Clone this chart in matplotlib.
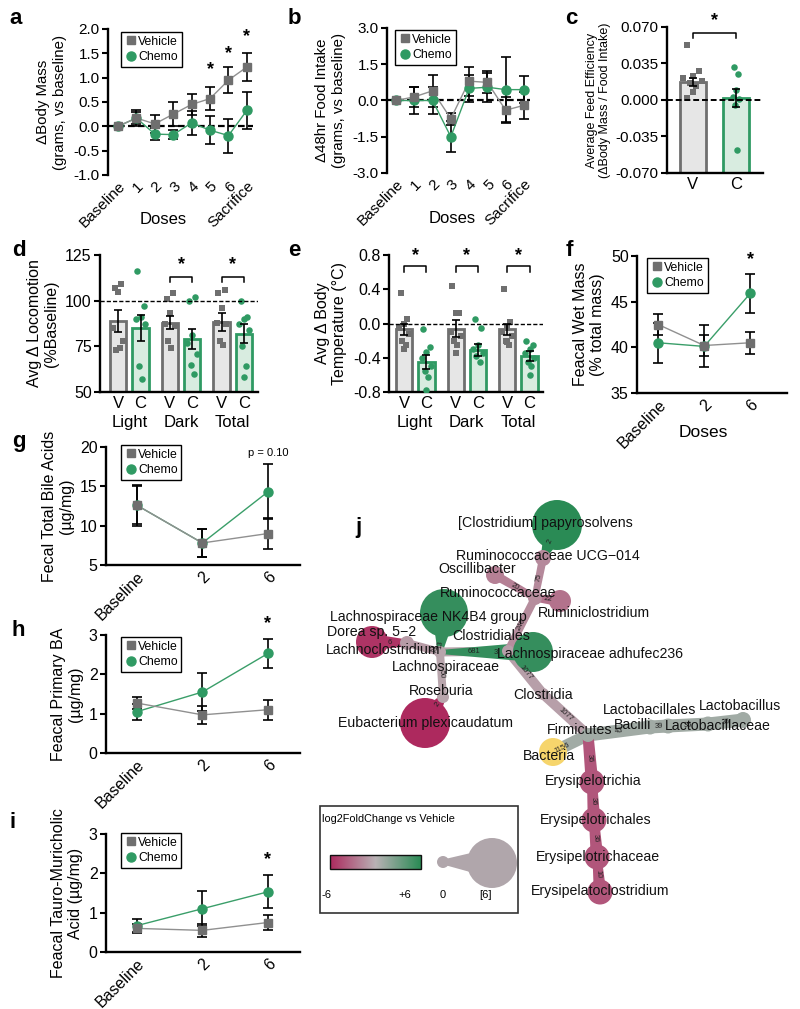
import matplotlib.pyplot as plt
import numpy as np
from matplotlib.patches import Circle, Polygon, Rectangle
from matplotlib.colors import LinearSegmentedColormap
from matplotlib.ticker import FormatStrFormatter
from matplotlib.lines import Line2D

plt.rcParams['font.family'] = ['Liberation Sans', 'DejaVu Sans']
plt.rcParams['axes.unicode_minus'] = False

GRAY = '#6f6f6f'
GRAY_LINE = '#909090'
GREEN = '#2f9a63'
GREEN_LINE = '#3a9e69'
V_FILL = '#e6e6e6'
C_FILL = '#d8ece0'

# ---------------- data ----------------
dose_labels = ['Baseline', '1', '2', '3', '4', '5', '6', 'Sacrifice']
mass_veh = [0, 0.17, 0.05, 0.25, 0.45, 0.57, 0.95, 1.22]
mass_veh_err = [0, 0.16, 0.18, 0.24, 0.22, 0.23, 0.26, 0.28]
mass_chemo = [0, 0.17, -0.16, -0.17, 0.07, -0.08, -0.19, 0.33]
mass_chemo_err = [0, 0.12, 0.12, 0.10, 0.25, 0.29, 0.35, 0.38]

food_veh = [0, 0.15, 0.4, -0.75, 0.8, 0.75, -0.4, -0.2]
food_veh_err = [0, 0.4, 0.65, 0.25, 0.6, 0.45, 0.55, 0.55]
food_chemo = [0, 0.0, 0.0, -1.5, 0.5, 0.55, 0.45, 0.45]
food_chemo_err = [0, 0.55, 0.55, 0.65, 0.55, 0.6, 1.35, 0.55]

fe_means = [0.017, 0.002]
fe_sems = [0.004, 0.009]
fe_veh_pts = [0.053, 0.028, 0.023, 0.021, 0.018, 0.016, 0.013, 0.008, 0.002]
fe_chemo_pts = [0.032, 0.025, 0.010, 0.003, 0.001, -0.005, -0.048]

phase_labels = ['Light', 'Dark', 'Total']
loc_veh_mean = [89, 88, 88.5]
loc_veh_sem = [6, 3.5, 5]
loc_chemo_mean = [85, 79, 82]
loc_chemo_sem = [7, 5.5, 5]
loc_veh_pts = [[107, 109, 105, 85, 78, 73, 74],
               [101, 104, 93, 87, 86, 78, 74],
               [104, 106, 96, 88, 87, 78, 76]]
loc_chemo_pts = [[116, 97, 91, 90, 87, 64, 57],
                 [100, 102, 81, 77, 71, 65, 60],
                 [100, 91, 90, 87, 84, 75, 64, 58]]

temp_veh_mean = [-0.07, -0.06, -0.07]
temp_veh_sem = [0.06, 0.10, 0.07]
temp_chemo_mean = [-0.45, -0.31, -0.38]
temp_chemo_sem = [0.08, 0.07, 0.06]
temp_veh_pts = [[0.36, 0.05, 0.0, -0.05, -0.12, -0.2, -0.25, -0.3],
                [0.44, 0.12, 0.12, -0.1, -0.15, -0.2, -0.25, -0.35],
                [0.4, 0.02, -0.05, -0.1, -0.15, -0.2, -0.25, -0.22]]
temp_chemo_pts = [[-0.07, -0.27, -0.33, -0.4, -0.5, -0.55, -0.63, -0.78],
                  [0.05, -0.05, -0.25, -0.3, -0.35, -0.38, -0.45],
                  [-0.2, -0.25, -0.3, -0.35, -0.4, -0.45, -0.5, -0.6]]

fecal_labels = ['Baseline', '2', '6']
wet_veh = [42.5, 40.2, 40.5]
wet_veh_err = [1.1, 1.2, 1.2]
wet_chemo = [40.5, 40.1, 45.9]
wet_chemo_err = [2.2, 2.3, 2.1]

bile_veh = [12.6, 7.8, 9.0]
bile_veh_err = [2.4, 1.8, 2.0]
bile_chemo = [12.6, 7.8, 14.3]
bile_chemo_err = [2.6, 1.8, 3.5]

pba_veh = [1.27, 0.97, 1.1]
pba_veh_err = [0.16, 0.22, 0.26]
pba_chemo = [1.05, 1.55, 2.53]
pba_chemo_err = [0.2, 0.48, 0.38]

tmca_veh = [0.6, 0.55, 0.75]
tmca_veh_err = [0.1, 0.16, 0.2]
tmca_chemo = [0.67, 1.1, 1.53]
tmca_chemo_err = [0.18, 0.45, 0.42]

# heat tree (panel j)
taxa = ['Bacteria', 'Firmicutes', 'Clostridia', 'Clostridiales', 'Lachnospiraceae',
        'Lachnospiraceae NK4B4 group', 'Lachnoclostridium', 'Dorea sp. 5−2', 'Roseburia',
        'Eubacterium plexicaudatum', 'Lachnospiraceae adhufec236', 'Ruminococcaceae',
        'Ruminiclostridium', 'Oscillibacter', 'Ruminococcaceae UCG−014',
        '[Clostridium] papyrosolvens', 'Bacilli', 'Lactobacillales', 'Lactobacillaceae',
        'Lactobacillus', 'Erysipelotrichia', 'Erysipelotrichales', 'Erysipelotrichaceae',
        'Erysipelatoclostridium']
parent = [-1, 0, 1, 2, 3, 4, 4, 6, 4, 8, 4, 3, 11, 11, 11, 14, 1, 16, 17, 18, 1, 20, 21, 22]
log2fc = [np.nan, 1.0, -0.8, -0.8, -0.6, 5.5, -1.0, -5.5, -0.6, -6.0, 5.5, -1.6,
          -2.8, -2.2, -1.8, 6.0, 1.0, 1.0, 1.0, 1.0, -4.0, -4.0, -4.0, -4.0]
edge_n = [0, 1156, 1077, 1077, 681, 13, 22, 6, 50, 2, 3, 246, 22, 20, 75, 2,
          43, 39, 36, 36, 36, 36, 36, 10]

# layout of the tree (pixel space of the figure)
node_x = [553, 588, 543, 508, 440, 444, 407, 372, 443, 425, 533, 535, 560, 495, 543, 557,
          650, 668, 708, 743, 592, 594, 597, 600]
node_y = [752, 735, 694, 651, 652, 613, 643, 642, 697, 723, 652, 598, 601, 575, 558, 525,
          727, 726, 724, 720, 782, 820, 857, 892]
node_r = [14, 7, 6, 6, 6, 24, 7, 16, 6, 25, 20, 7, 11, 9, 8, 25,
          7.5, 7.5, 7.5, 8, 12.5, 12.5, 12.5, 12.5]
edge_w = [0, 12, 10, 10, 9, 5, 8, 7, 8, 6, 4, 8, 7, 7, 7, 5, 13, 13, 13, 13, 11, 10, 10, 9]
edge_t = [0.5, 0.25, 0.5, 0.5, 0.5, 0.2, 0.2, 0.5, 0.5, 0.3, 0.6, 0.5, 0.5, 0.5, 0.5, 0.5,
          0.5, 0.5, 0.5, 0.5, 0.5, 0.5, 0.5, 0.5]
label_x = [549, 580, 543, 491, 446, 428, 383, 372, 441, 425, 590, 498, 594, 477, 548, 545,
           633, 650, 718, 740, 593, 596, 598, 600]
label_y = [756, 730, 695, 636, 667, 617, 650, 632, 691, 723, 654, 593, 613, 569, 556, 523,
           725, 710, 726, 706, 781, 820, 857, 891]

# ---------------- helpers ----------------
W, H = 800, 1009
fig = plt.figure(figsize=(W / 100, H / 100), dpi=100)


def px_axes(x0, y0, x1, y1):
    return fig.add_axes([x0 / W, 1 - y1 / H, (x1 - x0) / W, (y1 - y0) / H])


def style_axes(ax, tick_fs=11):
    for s in ['top', 'right']:
        ax.spines[s].set_visible(False)
    for s in ['left', 'bottom']:
        ax.spines[s].set_linewidth(1.7)
    ax.tick_params(axis='y', direction='out', length=4, width=1.5, labelsize=tick_fs, pad=2)
    ax.tick_params(axis='x', length=0, labelsize=tick_fs, pad=3)


def add_legend(ax, anchor, fs=8.8):
    handles = [Line2D([], [], marker='s', color=GRAY, ls='none', ms=6),
               Line2D([], [], marker='o', color=GREEN, ls='none', ms=6.5)]
    leg = ax.legend(handles, ['Vehicle', 'Chemo'], loc='upper left', bbox_to_anchor=anchor,
                    frameon=True, fancybox=False, edgecolor='black', framealpha=1,
                    handletextpad=0.1, handlelength=1.0, borderpad=0.3, labelspacing=0.3,
                    fontsize=fs, borderaxespad=0)
    leg.get_frame().set_linewidth(1.0)


def line_panel(ax, labels, veh, veh_err, chemo, chemo_err):
    x = np.arange(len(labels))
    ax.errorbar(x, veh, yerr=veh_err, fmt='none', ecolor='black', elinewidth=1.2,
                capsize=3.5, capthick=1.2, zorder=2)
    ax.errorbar(x, chemo, yerr=chemo_err, fmt='none', ecolor='black', elinewidth=1.2,
                capsize=3.5, capthick=1.2, zorder=2)
    ax.plot(x, chemo, color=GREEN_LINE, lw=1, zorder=3)
    ax.plot(x, veh, color=GRAY_LINE, lw=1, zorder=3)
    ax.plot(x, chemo, 'o', color=GREEN, ms=6.5, zorder=4, clip_on=False)
    ax.plot(x, veh, 's', color=GRAY, ms=6, zorder=5, clip_on=False)
    ax.set_xticks(x)
    ax.set_xticklabels(labels, rotation=45, ha='right', rotation_mode='anchor')


def star(ax, x, y, fs=13):
    ax.text(x, y, '*', ha='center', va='center', fontsize=fs, fontweight='bold',
            clip_on=False)


def bracket(ax, x0, x1, y, drop, star_y):
    ax.plot([x0, x0, x1, x1], [y - drop, y, y, y - drop], color='black', lw=1.1,
            clip_on=False)
    star(ax, (x0 + x1) / 2, star_y)


def jitter(n):
    return np.resize([-0.14, 0.14, 0.0, -0.22, 0.22, -0.07, 0.07, 0.0], n)


def group_bar_panel(ax, vm, vs, cm, cs, vp, cp, ybot):
    gpos = np.arange(len(phase_labels)) * 2.3
    for i in range(len(phase_labels)):
        xv, xc = gpos[i], gpos[i] + 1
        ax.bar(xv, vm[i] - ybot, bottom=ybot, width=0.72, color=V_FILL, edgecolor=GRAY,
               lw=2, zorder=2)
        ax.bar(xc, cm[i] - ybot, bottom=ybot, width=0.72, color=C_FILL, edgecolor=GREEN,
               lw=2, zorder=2)
        ax.scatter(xv + jitter(len(vp[i])), vp[i], marker='s', s=20, color=GRAY, zorder=3,
                   lw=0)
        ax.scatter(xc + jitter(len(cp[i])), cp[i], marker='o', s=22, color=GREEN, zorder=3,
                   lw=0)
        ax.errorbar([xv, xc], [vm[i], cm[i]], yerr=[vs[i], cs[i]], fmt='none',
                    ecolor='black', elinewidth=1.2, capsize=3, capthick=1.2, zorder=4)
    ticks = np.concatenate([[g, g + 1] for g in gpos])
    ax.set_xticks(ticks)
    ax.set_xticklabels(['V', 'C'] * len(phase_labels))
    for i, g in enumerate(gpos):
        ax.text(g + 0.5, -0.22, phase_labels[i], transform=ax.get_xaxis_transform(),
                ha='center', va='center', fontsize=12)
    return gpos


def letter(x, y, s):
    fig.text(x / W, 1 - y / H, s, fontsize=16, fontweight='bold', ha='center', va='center')


# ---------------- a ----------------
ax = px_axes(108, 29, 253, 175)
line_panel(ax, dose_labels, mass_veh, mass_veh_err, mass_chemo, mass_chemo_err)
style_axes(ax)
ax.spines['bottom'].set_visible(False)
ax.axhline(0, color='black', ls=(0, (3, 1.5)), lw=1.6, zorder=1)
ax.set_xlim(-0.54, 7.33)
ax.set_ylim(-1.0, 2.0)
ax.set_yticks(np.arange(-1.0, 2.01, 0.5))
ax.yaxis.set_major_formatter(FormatStrFormatter('%.1f'))
ax.set_ylabel('ΔBody Mass\n(grams, vs baseline)', fontsize=10.8, labelpad=5)
ax.set_xlabel('Doses', fontsize=12)
ax.xaxis.set_label_coords(0.38, -0.25)
add_legend(ax, (0.09, 0.98))
for xi, yi in zip([5, 6, 7], [1.16, 1.5, 1.85]):
    star(ax, xi, yi)
letter(16, 18, 'a')

# ---------------- b ----------------
ax = px_axes(387, 28, 530, 173)
line_panel(ax, dose_labels, food_veh, food_veh_err, food_chemo, food_chemo_err)
style_axes(ax)
ax.spines['bottom'].set_visible(False)
ax.axhline(0, color='black', ls=(0, (3, 1.5)), lw=1.6, zorder=1)
ax.set_xlim(-0.49, 7.33)
ax.set_ylim(-3.0, 3.0)
ax.set_yticks(np.arange(-3.0, 3.01, 1.5))
ax.yaxis.set_major_formatter(FormatStrFormatter('%.1f'))
ax.set_ylabel('Δ48hr Food Intake\n(grams, vs baseline)', fontsize=10.8, labelpad=5)
ax.set_xlabel('Doses', fontsize=12)
ax.xaxis.set_label_coords(0.455, -0.262)
add_legend(ax, (0.056, 0.986))
letter(294, 19, 'b')

# ---------------- c ----------------
ax = px_axes(667, 27, 763, 173)
ybot = -0.07
ax.bar(0, fe_means[0] - ybot, bottom=ybot, width=0.6, color=V_FILL, edgecolor=GRAY, lw=2,
       zorder=2)
ax.bar(1, fe_means[1] - ybot, bottom=ybot, width=0.6, color=C_FILL, edgecolor=GREEN, lw=2,
       zorder=2)
ax.scatter(0 + jitter(len(fe_veh_pts)), fe_veh_pts, marker='s', s=20, color=GRAY, lw=0,
           zorder=3)
ax.scatter(1 + jitter(len(fe_chemo_pts)) * 0.3, fe_chemo_pts, marker='o', s=22, color=GREEN,
           lw=0, zorder=3)
ax.errorbar([0, 1], fe_means, yerr=fe_sems, fmt='none', ecolor='black', elinewidth=1.2,
            capsize=3, capthick=1.2, zorder=4)
ax.axhline(0, color='black', ls=(0, (3, 1.5)), lw=1.4, zorder=5)
style_axes(ax)
ax.set_xlim(-0.6, 1.63)
ax.set_ylim(-0.07, 0.07)
ax.set_yticks([-0.07, -0.035, 0, 0.035, 0.07])
ax.yaxis.set_major_formatter(FormatStrFormatter('%.3f'))
ax.set_xticks([0, 1])
ax.set_xticklabels(['V', 'C'], fontsize=12)
ax.set_ylabel('Average Feed Efficiency\n(ΔBody Mass / Food Intake)', fontsize=9, labelpad=3)
bracket(ax, 0, 1, 0.0642, 0.0047, 0.0758)
letter(571, 18, 'c')

# ---------------- d ----------------
ax = px_axes(100, 255, 258, 392)
gpos = group_bar_panel(ax, loc_veh_mean, loc_veh_sem, loc_chemo_mean, loc_chemo_sem,
                       loc_veh_pts, loc_chemo_pts, 50)
ax.axhline(100, color='black', ls=(0, (3, 1.5)), lw=1.0, zorder=5)
style_axes(ax, 11.5)
ax.tick_params(axis='x', labelsize=12)
ax.set_xlim(-0.8, 6.22)
ax.set_ylim(50, 125)
ax.set_yticks([50, 75, 100, 125])
ax.set_ylabel('Avg Δ Locomotion\n(%Baseline)', fontsize=11.5, labelpad=4)
for g in gpos[1:]:
    bracket(ax, g, g + 1, 113, 3, 119.5)
letter(19, 250, 'd')

# ---------------- e ----------------
ax = px_axes(389, 255, 543, 392)
gpos = group_bar_panel(ax, temp_veh_mean, temp_veh_sem, temp_chemo_mean, temp_chemo_sem,
                       temp_veh_pts, temp_chemo_pts, -0.8)
ax.axhline(0, color='black', ls=(0, (3, 1.5)), lw=1.0, zorder=5)
style_axes(ax, 11.5)
ax.tick_params(axis='x', labelsize=12)
ax.set_xlim(-0.67, 6.2)
ax.set_ylim(-0.8, 0.8)
ax.set_yticks([-0.8, -0.4, 0, 0.4, 0.8])
ax.yaxis.set_major_formatter(FormatStrFormatter('%.1f'))
ax.set_ylabel('Avg Δ Body\nTemperature (°C)', fontsize=11.5, labelpad=4)
for g in gpos:
    bracket(ax, g, g + 1, 0.67, 0.07, 0.79)
letter(294, 250, 'e')

# ---------------- f ----------------
ax = px_axes(637, 256, 787, 393)
line_panel(ax, fecal_labels, wet_veh, wet_veh_err, wet_chemo, wet_chemo_err)
style_axes(ax, 11.5)
ax.set_xlim(-0.46, 2.8)
ax.set_ylim(35, 50)
ax.set_yticks([35, 40, 45, 50])
ax.set_ylabel('Feacal Wet Mass\n(% total mass)', fontsize=11.5, labelpad=4)
ax.set_xlabel('Doses', fontsize=12.5)
ax.xaxis.set_label_coords(0.44, -0.234)
add_legend(ax, (0.067, 0.985))
star(ax, 2, 49.6)
letter(569, 250, 'f')

# ---------------- g ----------------
ax = px_axes(106, 447, 300, 565)
line_panel(ax, fecal_labels, bile_veh, bile_veh_err, bile_chemo, bile_chemo_err)
style_axes(ax, 11.5)
ax.set_xlim(-0.47, 2.49)
ax.set_ylim(5, 20)
ax.set_yticks([5, 10, 15, 20])
ax.set_ylabel('Fecal Total Bile Acids\n(µg/mg)', fontsize=11.5, labelpad=4)
add_legend(ax, (0.077, 1.017))
ax.text(2, 19.2, 'p = 0.10', ha='center', va='center', fontsize=8)
letter(19, 442, 'g')

# ---------------- h ----------------
ax = px_axes(106, 635, 300, 753)
line_panel(ax, fecal_labels, pba_veh, pba_veh_err, pba_chemo, pba_chemo_err)
style_axes(ax, 11.5)
ax.set_xlim(-0.47, 2.49)
ax.set_ylim(0, 3)
ax.set_yticks([0, 1, 2, 3])
ax.set_ylabel('Feacal Primary BA\n(µg/mg)', fontsize=11.5, labelpad=4)
add_legend(ax, (0.077, 0.983))
star(ax, 2, 3.3)
letter(18, 630, 'h')

# ---------------- i ----------------
ax = px_axes(106, 834, 300, 952)
line_panel(ax, fecal_labels, tmca_veh, tmca_veh_err, tmca_chemo, tmca_chemo_err)
style_axes(ax, 11.5)
ax.set_xlim(-0.47, 2.49)
ax.set_ylim(0, 3)
ax.set_yticks([0, 1, 2, 3])
ax.set_ylabel('Feacal Tauro-Muricholic\nAcid (µg/mg)', fontsize=11.5, labelpad=4)
add_legend(ax, (0.077, 1.008))
star(ax, 2, 2.36)
letter(13, 822, 'i')

# ---------------- j : heat tree ----------------
cmap = LinearSegmentedColormap.from_list('fc', ['#ad295e', '#b9b2b5', '#2a8b55'])
NA_COLOR = '#f6d56c'


def fc_color(v):
    if np.isnan(v):
        return NA_COLOR
    return cmap((v + 6) / 12)


def taper(x0, y0, x1, y1, hw0, hw1):
    d = np.array([x1 - x0, y1 - y0], float)
    n = np.array([-d[1], d[0]]) / np.hypot(*d)
    p0, p1 = np.array([x0, y0], float), np.array([x1, y1], float)
    return np.array([p0 + n * hw0, p1 + n * hw1, p1 - n * hw1, p0 - n * hw0])


axj = px_axes(310, 490, 800, 1009)
axj.set_axis_off()

for k, p in enumerate(parent):
    if p < 0:
        continue
    col = fc_color(log2fc[k])
    hw0 = edge_w[k] / 2
    hw1 = max(hw0, 0.5 * node_r[k])
    axj.add_patch(Polygon(taper(node_x[p], node_y[p], node_x[k], node_y[k], hw0, hw1),
                          closed=True, fc=col, ec='none', zorder=1))
    axj.add_patch(Circle((node_x[p], node_y[p]), hw0, fc=col, ec='none', zorder=1))

for k in range(len(taxa)):
    axj.add_patch(Circle((node_x[k], node_y[k]), node_r[k], fc=fc_color(log2fc[k]),
                         ec='none', zorder=2))

for k, p in enumerate(parent):
    if p < 0:
        continue
    t = edge_t[k]
    mx = node_x[p] + t * (node_x[k] - node_x[p])
    my = node_y[p] + t * (node_y[k] - node_y[p])
    ang = np.degrees(np.arctan2(-(node_y[k] - node_y[p]), node_x[k] - node_x[p]))
    if ang > 90:
        ang -= 180
    elif ang < -90:
        ang += 180
    axj.text(mx, my, str(edge_n[k]), rotation=ang, ha='center', va='center', fontsize=5.5,
             color='#222222', zorder=3, rotation_mode='anchor')

for k in range(len(taxa)):
    axj.text(label_x[k], label_y[k], taxa[k], ha='center', va='center', fontsize=10.2,
             color='#111111', zorder=4)

# legend of heat tree
axj.add_patch(Rectangle((320, 806), 198, 107, fill=False, ec='#333333', lw=1.2, zorder=5))
axj.text(322, 819, 'log2FoldChange vs Vehicle', ha='left', va='center', fontsize=7.8,
         zorder=6)
axj.imshow(np.linspace(0, 1, 256)[None, :], extent=[330, 421, 869, 855], cmap=cmap,
           aspect='auto', zorder=5)
axj.add_patch(Rectangle((330, 855), 91, 14, fill=False, ec='#111111', lw=1.0, zorder=6))
for tx, s in zip([326, 405, 443, 486], ['-6', '+6', '0', '[6]']):
    axj.text(tx, 895, s, ha='center', va='center', fontsize=8, zorder=6)
size_col = '#b0a6ab'
axj.add_patch(Polygon(taper(443, 862, 492, 863, 2.5, 15), closed=True, fc=size_col,
                      ec='none', zorder=5))
axj.add_patch(Circle((443, 862), 6, fc=size_col, ec='none', zorder=5))
axj.add_patch(Circle((492, 863), 25, fc=size_col, ec='none', zorder=5))

axj.set_xlim(310, 800)
axj.set_ylim(1009, 490)
letter(358, 527, 'j')

fig.savefig('out.png', dpi=100)
